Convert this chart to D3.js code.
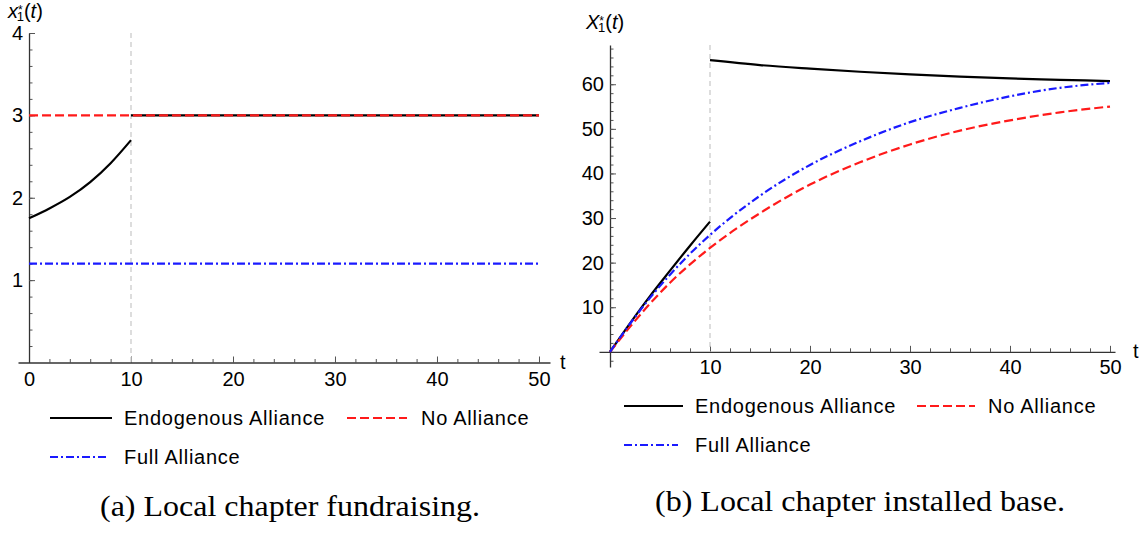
<!DOCTYPE html>
<html>
<head>
<meta charset="utf-8">
<script src="https://cdn.jsdelivr.net/npm/d3@7"></script>
<style>
  html, body { margin: 0; padding: 0; background: #fff; }
  svg { display: block; }
  text { font-family: "Liberation Sans", Arial, sans-serif; fill: #000; }
  .caption { font-family: "Liberation Serif", "DejaVu Serif", serif; }
</style>
</head>
<body>
<svg id="chart" width="1146" height="533"></svg>
<script>
// ---- data ----------------------------------------------------------------
// Panel (a): fundraising effort x1*(t)
const fundT_pre   = [0, 2, 4, 6, 8, 10];
const fundEndoPre = [1.75, 1.87, 2.01, 2.19, 2.42, 2.70];
const fundT_post  = [10, 20, 30, 40, 50];
const fundEndoPost = [3.0, 3.0, 3.0, 3.0, 3.0];
const fundT_all   = [0, 10, 20, 30, 40, 50];
const fundNo      = [3.0, 3.0, 3.0, 3.0, 3.0, 3.0];
const fundFull    = [1.2, 1.2, 1.2, 1.2, 1.2, 1.2];

// Panel (b): installed base X1*(t)
const baseT_pre    = [0, 2, 4, 6, 8, 10];
const baseEndoPre  = [0, 6.4, 12.5, 18.2, 23.8, 29.2];
const baseT_post   = [10, 15, 20, 25, 30, 35, 40, 45, 50];
const baseEndoPost = [65.4, 64.3, 63.5, 62.8, 62.2, 61.7, 61.3, 61.0, 60.7];
const baseT_all    = [0, 2, 4, 6, 8, 10, 15, 20, 25, 30, 35, 40, 45, 50];
const baseNo       = [0, 5.6, 10.8, 15.5, 19.6, 23.3, 31.1, 37.5, 42.5, 46.5, 49.6, 51.9, 53.7, 55.0];
const baseFull     = [0, 6.3, 12.1, 17.3, 22.0, 26.2, 35.0, 41.9, 47.2, 51.5, 54.7, 57.3, 59.2, 60.3];

// Axis ticks
const fundXTicks = [0, 10, 20, 30, 40, 50];
const fundYTicks = [1, 2, 3, 4];
const baseXTicks = [10, 20, 30, 40, 50];
const baseYTicks = [10, 20, 30, 40, 50, 60];
const switchTime = 10;

const seriesNames = ["Endogenous Alliance", "No Alliance", "Full Alliance"];
const captions = ["(a) Local chapter fundraising.", "(b) Local chapter installed base."];

// ---- styles --------------------------------------------------------------
const styles = {
  endo: { color: "#000000", dash: null },
  no:   { color: "#ff1a1a", dash: "9,4" },
  full: { color: "#1a1aff", dash: "8,3,2,3" }
};

const svg = d3.select("#chart");
const fmt = d3.format("d");

function zip(xs, ys) { return xs.map((x, i) => ({ t: x, v: ys[i] })); }

function drawPanel(cfg) {
  const g = svg.append("g");
  const x = d3.scaleLinear().domain(cfg.xDomain).range(cfg.xRange);
  const y = d3.scaleLinear().domain(cfg.yDomain).range(cfg.yRange);
  const x0 = x(0), y0 = y(0);

  // minor ticks
  g.append("g").attr("transform", `translate(0,${y0})`)
    .call(d3.axisBottom(x).tickValues(cfg.xMinor).tickSize(-3.5).tickSizeOuter(0).tickFormat(""))
    .call(a => a.select(".domain").remove())
    .call(a => a.selectAll("line").attr("stroke", "#555"));
  g.append("g").attr("transform", `translate(${x0},0)`)
    .call(d3.axisLeft(y).tickValues(cfg.yMinor).tickSize(-3.5).tickSizeOuter(0).tickFormat(""))
    .call(a => a.select(".domain").remove())
    .call(a => a.selectAll("line").attr("stroke", "#555"));

  // major axes
  const xa = g.append("g").attr("transform", `translate(0,${y0})`)
    .call(d3.axisBottom(x).tickValues(cfg.xTicks).tickSize(-6).tickSizeOuter(0).tickPadding(cfg.xPad).tickFormat(fmt));
  const ya = g.append("g").attr("transform", `translate(${x0},0)`)
    .call(d3.axisLeft(y).tickValues(cfg.yTicks).tickSize(-6).tickSizeOuter(0).tickPadding(6).tickFormat(fmt));
  [xa, ya].forEach(a => {
    a.select(".domain").attr("stroke", "#333").attr("stroke-width", 1.3);
    a.selectAll("line").attr("stroke", "#555").attr("stroke-width", 1);
    a.selectAll("text").attr("font-size", 20).attr("font-family", "Liberation Sans, Arial, sans-serif").attr("fill", "#000");
  });

  // switch time marker
  g.append("line")
    .attr("x1", x(switchTime)).attr("x2", x(switchTime))
    .attr("y1", y(cfg.yDomain[1])).attr("y2", y0)
    .attr("stroke", "#cfcfcf").attr("stroke-width", 1.4).attr("stroke-dasharray", "5,4");

  const line = d3.line().x(d => x(d.t)).y(d => y(d.v)).curve(d3.curveMonotoneX);
  const draw = (data, st) => g.append("path").datum(data)
    .attr("fill", "none").attr("stroke", st.color).attr("stroke-width", 2.2)
    .attr("stroke-dasharray", st.dash);

  draw(cfg.endoPre, styles.endo).attr("d", line);
  draw(cfg.endoPost, styles.endo).attr("d", line);
  draw(cfg.no, styles.no).attr("d", line);
  draw(cfg.full, styles.full).attr("d", line);

  // axis titles
  g.append("text").attr("x", cfg.tPos[0]).attr("y", cfg.tPos[1])
    .attr("font-size", 20).text("t");
  const lab = g.append("text").attr("x", cfg.yLabPos[0]).attr("y", cfg.yLabPos[1]).attr("font-size", 20);
  lab.append("tspan").attr("font-style", "italic").text(cfg.yVar);
  lab.append("tspan").attr("font-size", 12).attr("dy", -4).text("*");
  lab.append("tspan").attr("font-size", 13).attr("dx", -6).attr("dy", 7).text("1");
  lab.append("tspan").attr("dy", -3).text("(");
  lab.append("tspan").attr("font-style", "italic").text("t");
  lab.append("tspan").text(")");

  // legend
  const L = cfg.legend;
  const items = [
    { name: seriesNames[0], st: styles.endo, x: L.x1, y: L.y1, len: L.len1 },
    { name: seriesNames[1], st: styles.no,   x: L.x2, y: L.y1, len: L.len2 },
    { name: seriesNames[2], st: styles.full, x: L.x1, y: L.y2, len: L.len3 }
  ];
  items.forEach(it => {
    g.append("line").attr("x1", it.x).attr("x2", it.x + it.len)
      .attr("y1", it.y).attr("y2", it.y)
      .attr("stroke", it.st.color).attr("stroke-width", 2)
      .attr("stroke-dasharray", it.st.dash);
    g.append("text").attr("x", it.x + L.gap).attr("y", it.y + 7)
      .attr("font-size", 20).attr("letter-spacing", 0.75).text(it.name);
  });

  // caption
  g.append("text").attr("class", "caption")
    .attr("x", cfg.caption.x).attr("y", cfg.caption.y)
    .attr("font-size", 29)
    .attr("textLength", cfg.caption.w).attr("lengthAdjust", "spacingAndGlyphs")
    .text(cfg.caption.text);
}

const range = (a, b, s) => d3.range(a, b + 1e-9, s);

drawPanel({
  xDomain: [-1.08, 51.08], xRange: [18, 550],
  yDomain: [0, 4], yRange: [362.5, 33],
  xTicks: fundXTicks, yTicks: fundYTicks,
  xMinor: range(0, 50, 2), yMinor: range(0.2, 4, 0.2),
  xPad: 9,
  endoPre: zip(fundT_pre, fundEndoPre),
  endoPost: zip(fundT_post, fundEndoPost),
  no: zip(fundT_all, fundNo),
  full: zip(fundT_all, fundFull),
  tPos: [560, 369], yLabPos: [8, 17.5], yVar: "x",
  legend: { x1: 50, x2: 347, y1: 418, y2: 457, len1: 62, len2: 60, len3: 57, gap: 74 },
  caption: { x: 100, y: 516, w: 380, text: captions[0] }
});

drawPanel({
  xDomain: [-1.1, 50.5], xRange: [599, 1115],
  yDomain: [-3.4, 68.8], yRange: [367, 45],
  xTicks: baseXTicks, yTicks: baseYTicks,
  xMinor: range(2, 50, 2), yMinor: range(-2, 68, 2),
  xPad: 8,
  endoPre: zip(baseT_pre, baseEndoPre),
  endoPost: zip(baseT_post, baseEndoPost),
  no: zip(baseT_all, baseNo),
  full: zip(baseT_all, baseFull),
  tPos: [1133, 358], yLabPos: [586, 29], yVar: "X",
  legend: { x1: 624, x2: 917, y1: 406, y2: 445, len1: 59, len2: 58, len3: 54, gap: 71 },
  caption: { x: 655, y: 511, w: 410, text: captions[1] }
});
</script>
</body>
</html>
